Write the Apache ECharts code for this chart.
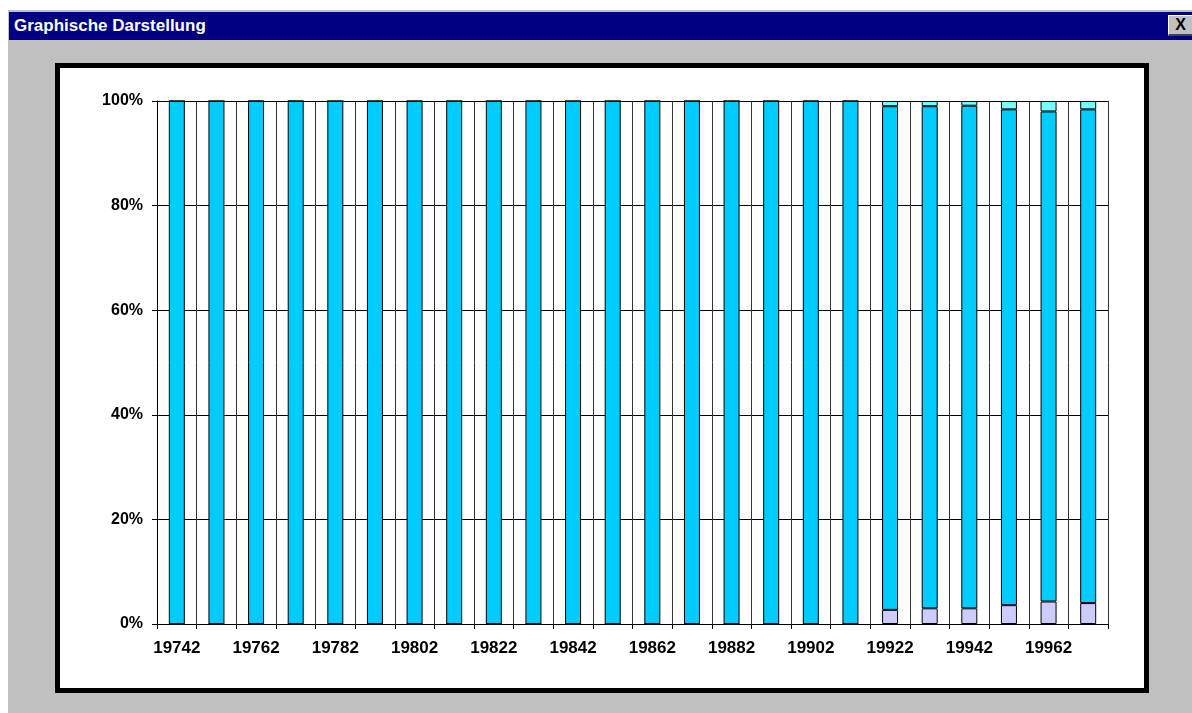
<!DOCTYPE html>
<html>
<head>
<meta charset="utf-8">
<script src="https://cdn.jsdelivr.net/npm/echarts@6/dist/echarts.min.js"></script>
<style>
html,body{margin:0;padding:0;width:1192px;height:713px;background:#fff;overflow:hidden;font-family:'Liberation Sans',Arial,sans-serif;}
#win{position:absolute;left:8px;top:10px;width:1184px;height:703px;background:#c0c0c0;}
#titlebar{position:absolute;left:9px;top:12px;width:1183px;height:28px;background:#000080;}
#title{position:absolute;left:14px;top:15px;color:#fff;font-weight:bold;font-size:17px;line-height:22px;white-space:nowrap;}
#close{position:absolute;left:1168px;top:15px;background:#c0c0c0;border-top:1px solid #fff;border-left:1px solid #fff;border-bottom:2px solid #404040;border-right:2px solid #404040;box-sizing:border-box;width:26px;height:21px;color:#000;font-weight:bold;font-size:16px;line-height:17px;text-align:center;}
#panel{position:absolute;left:55px;top:63px;width:1094px;height:630px;background:#fff;border:5px solid #000;box-sizing:border-box;}
#chart{position:absolute;left:0;top:0;width:1192px;height:713px;}
</style>
</head>
<body>
<div id="win"></div>
<div id="titlebar"></div>
<div id="title">Graphische Darstellung</div>
<div id="close">X</div>
<div id="panel"></div>
<div id="chart"></div>
<script>
// Category labels (as shown on the axis)
var categories = ['19742','19752','19762','19772','19782','19792','19802','19812','19822','19832','19842','19852',
                  '19862','19872','19882','19892','19902','19912','19922','19932','19942','19952','19962','19972'];
// Bottom segment (lavender), % share
var lowValues  = [0,0,0,0,0,0,0,0,0,0,0,0,0,0,0,0,0,0, 2.7, 3.0, 3.0, 3.6, 4.3, 4.0];
// Middle segment (sky blue), % share
var midValues  = [100,100,100,100,100,100,100,100,100,100,100,100,100,100,100,100,100,100, 96.3, 96.0, 96.1, 94.8, 93.7, 94.4];
// Top segment (light turquoise), % share
var highValues = [0,0,0,0,0,0,0,0,0,0,0,0,0,0,0,0,0,0, 1.0, 1.0, 0.9, 1.6, 2.0, 1.6];
// Y tick values
var yTicks = [0, 20, 40, 60, 80, 100];

var chart = echarts.init(document.getElementById('chart'), null, {renderer:'canvas'});
var fontFam = "'Liberation Sans', Arial, sans-serif";
function barSeries(name, data, color){
  return {
    name: name, type: 'bar', stack: 'total', data: data, barWidth: 16,
    itemStyle: {color: color, borderColor: '#000', borderWidth: 1},
    emphasis: {disabled: true}, animation: false
  };
}
chart.setOption({
  animation: false,
  backgroundColor: 'transparent',
  grid: {left: 157, right: 84, top: 101, bottom: 89, containLabel: false},
  xAxis: {
    type: 'category', data: categories, boundaryGap: true,
    axisLine: {show: true, lineStyle: {color: '#000', width: 1}},
    axisTick: {show: true, interval: 0, length: 5, lineStyle: {color: '#000'}},
    axisLabel: {interval: 1, margin: 16, color: '#000', fontWeight: 'bold', fontSize: 17, fontFamily: fontFam},
    splitLine: {show: true, interval: 0, lineStyle: {color: '#333', width: 1}}
  },
  yAxis: {
    type: 'value', min: yTicks[0], max: yTicks[yTicks.length-1], interval: 20,
    axisLine: {show: true, lineStyle: {color: '#000', width: 1}},
    axisTick: {show: true, length: 5, inside: false, lineStyle: {color: '#000'}},
    axisLabel: {formatter: '{value}%', margin: 14, color: '#000', fontWeight: 'bold', fontSize: 16, fontFamily: fontFam},
    splitLine: {show: true, lineStyle: {color: '#000', width: 1}}
  },
  series: [
    barSeries('low', lowValues, '#ccccff'),
    barSeries('mid', midValues, '#00ccff'),
    barSeries('high', highValues, '#77ffff')
  ]
});
</script>
</body>
</html>
